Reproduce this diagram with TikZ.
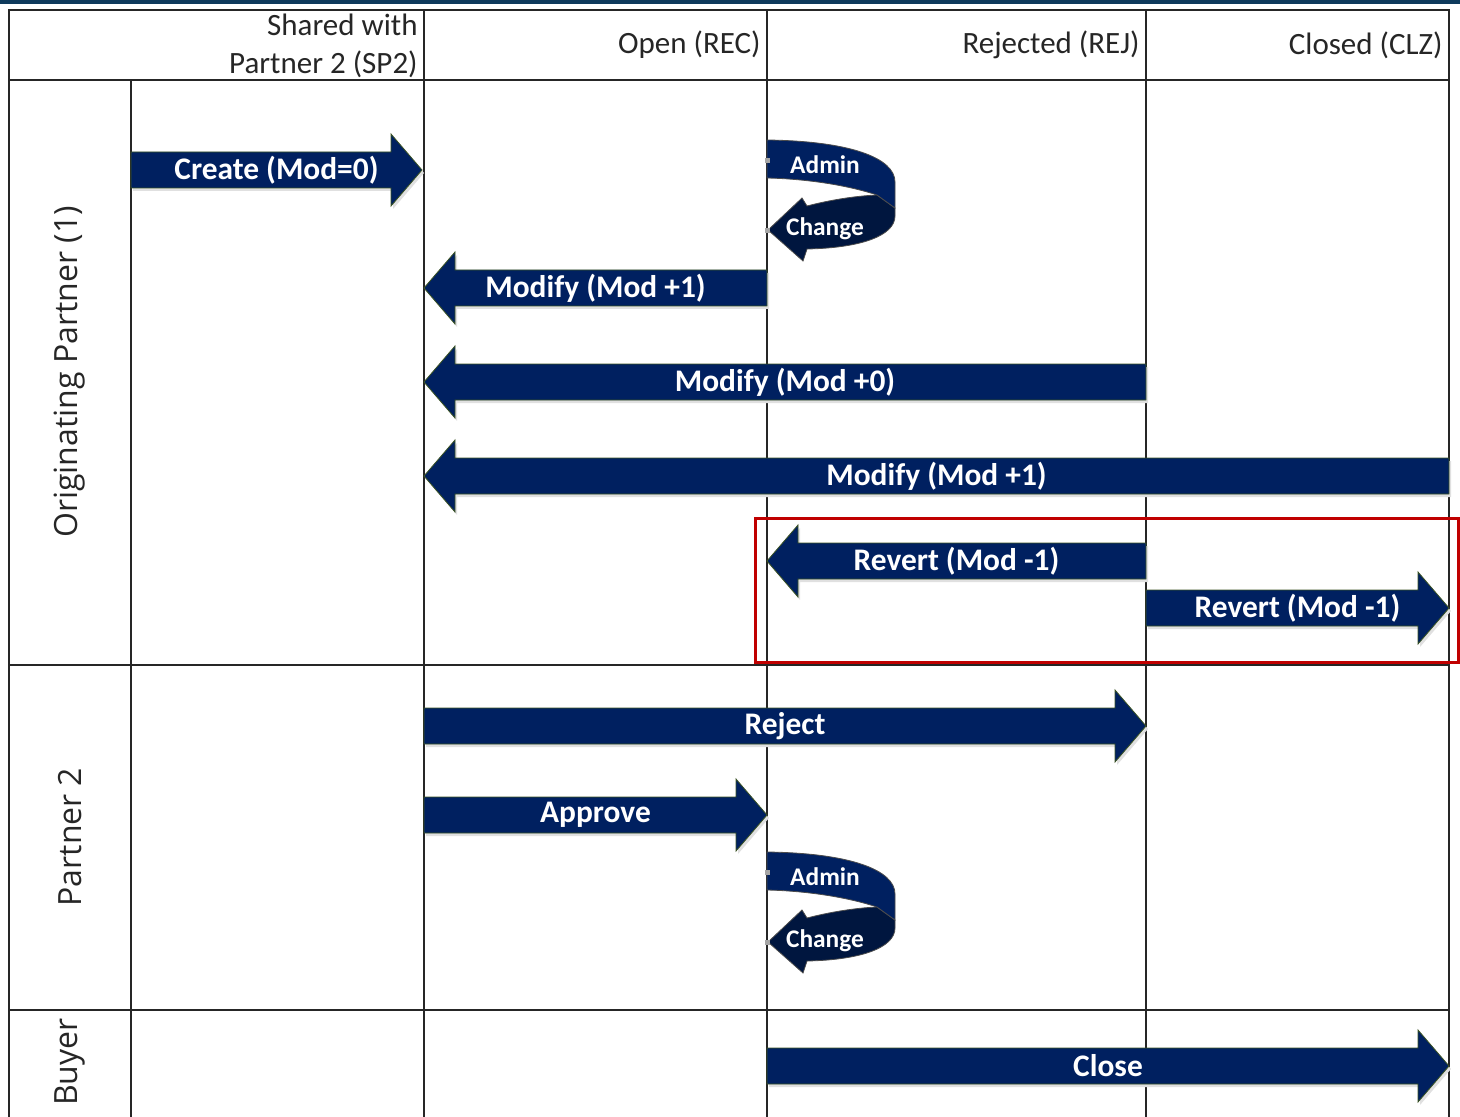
\documentclass[tikz,border=0pt]{standalone}
\usepackage{fontspec}
\setmainfont{Carlito}
\newfontfamily\lanefont{Open Sans}
\usepackage{tikz}
\usetikzlibrary{positioning}

\definecolor{navy}{HTML}{002060}
\definecolor{navydeep}{HTML}{00163F}
\definecolor{topband}{HTML}{0E3A5C}
\definecolor{rimgreen}{HTML}{3B5323}
\definecolor{redbox}{HTML}{C00000}

\tikzset{
  blk/.style={fill=navy, draw=rimgreen, line width=0.4pt},
  shade/.style={fill=black!12},
  lbl/.style={text=white, font=\bfseries\fontsize{15.7}{18}\selectfont, inner sep=0pt},
  smalllbl/.style={text=white, font=\bfseries\fontsize{12.7}{15}\selectfont, inner sep=0pt},
  hdr/.style={font=\fontsize{15.5}{19}\selectfont, anchor=east, inner sep=0pt, align=right, text=black!85},
  lane/.style={font=\lanefont\fontsize{16}{19}\selectfont, rotate=90, inner sep=0pt, text=black!85},
  gridline/.style={line width=1pt, black!85},
  pin/.style={fill=gray!70},
}

% block arrow pointing right: name, tail x, tip x, y, label
\newcommand{\rblock}[5]{%
  \fill[shade, shift={(2,3)}] (#2,#4-18) -- (#3-31,#4-18) -- (#3-31,#4-36) -- (#3,#4)
    -- (#3-31,#4+36) -- (#3-31,#4+18) -- (#2,#4+18) -- cycle;
  \draw[blk] (#2,#4-18) -- (#3-31,#4-18) -- (#3-31,#4-36) -- (#3,#4)
    -- (#3-31,#4+36) -- (#3-31,#4+18) -- (#2,#4+18) -- cycle;
  \node[lbl] (#1) at ({(#2+#3)/2},#4) {#5};}

% block arrow pointing left: name, tip x, tail x, y, label
\newcommand{\lblock}[5]{%
  \fill[shade, shift={(2,3)}] (#3,#4-18) -- (#2+31,#4-18) -- (#2+31,#4-36) -- (#2,#4)
    -- (#2+31,#4+36) -- (#2+31,#4+18) -- (#3,#4+18) -- cycle;
  \draw[blk] (#3,#4-18) -- (#2+31,#4-18) -- (#2+31,#4-36) -- (#2,#4)
    -- (#2+31,#4+36) -- (#2+31,#4+18) -- (#3,#4+18) -- cycle;
  \node[lbl] (#1) at ({(#2+#3)/2},#4) {#5};}

% curled self arrow on the REC line: suffix, y shift
\newcommand{\selfturn}[2]{%
  \begin{scope}[shift={(0,#2)}]
    \filldraw[fill=navydeep, draw=black!70, line width=0.4pt]
      (877,195) -- (895,208) -- (895,216) .. controls (895,236) and (860,248) .. (807,249)
      -- (803,261) -- (768,230) -- (802,198) -- (807,206)
      .. controls (830,200) and (855,196) .. (877,195) -- cycle;
    \filldraw[fill=navy, draw=black!70, line width=0.4pt]
      (767,140) .. controls (850,141) and (895,158) .. (895,182) -- (895,208) -- (877,195)
      .. controls (850,186) and (810,179) .. (767,178) -- cycle;
    \fill[pin] (765,158) rectangle (770,163);
    \fill[pin] (765,228) rectangle (770,233);
    \node[smalllbl] (admin#1) at (825,165) {Admin};
    \node[smalllbl] (change#1) at (825,229) {Change};
  \end{scope}}

\begin{document}
\begin{tikzpicture}[x=0.5pt, y=-0.5pt]
  \useasboundingbox (0,0) rectangle (1460,1117);
  \fill[topband] (0,0) rectangle (1460,4);

  % table
  \draw[gridline] (9,1117) -- (9,10) -- (1449,10) -- (1449,1117);
  \draw[gridline] (9,80) -- (1449,80);
  \draw[gridline] (9,665) -- (1449,665);
  \draw[gridline] (9,1010) -- (1449,1010);
  \draw[gridline] (131,80) -- (131,1117);
  \draw[gridline] (424,10) -- (424,1117);
  \draw[gridline] (767,10) -- (767,1117);
  \draw[gridline] (1146,10) -- (1146,1117);

  % column heads
  \node[hdr] (sp2) at (418,46) {Shared with\\Partner 2 (SP2)};
  \node[hdr] (rec) at (761,45) {Open (REC)};
  \node[hdr] (rej) at (1140,45) {Rejected (REJ)};
  \node[hdr] (clz) at (1443,45) {Closed (CLZ)};

  % lanes
  \node[lane] (orig) at (70,372) {Originating Partner (1)};
  \node[lane] (partner) at (70,837) {Partner 2};
  \node[lane] (buyer) at (70,1062) {Buyer};

  % originating partner
  \rblock{create}{131}{422}{170}{Create (Mod=0)}
  \selfturn{1}{0}
  \lblock{modA}{424}{767}{288}{Modify (Mod +1)}
  \lblock{modB}{424}{1146}{382}{Modify (Mod +0)}
  \lblock{modC}{424}{1449}{476}{Modify (Mod +1)}
  \lblock{revA}{767}{1146}{561}{Revert (Mod -1)}
  \rblock{revB}{1146}{1449}{608}{Revert (Mod -1)}
  \draw[redbox, line width=1.5pt] (755,518) rectangle (1458,662);

  % partner 2
  \rblock{reject}{424}{1146}{726}{Reject}
  \rblock{approve}{424}{767}{815}{Approve}
  \selfturn{2}{712}

  % buyer
  \rblock{close}{767}{1449}{1066}{Close}
\end{tikzpicture}
\end{document}
